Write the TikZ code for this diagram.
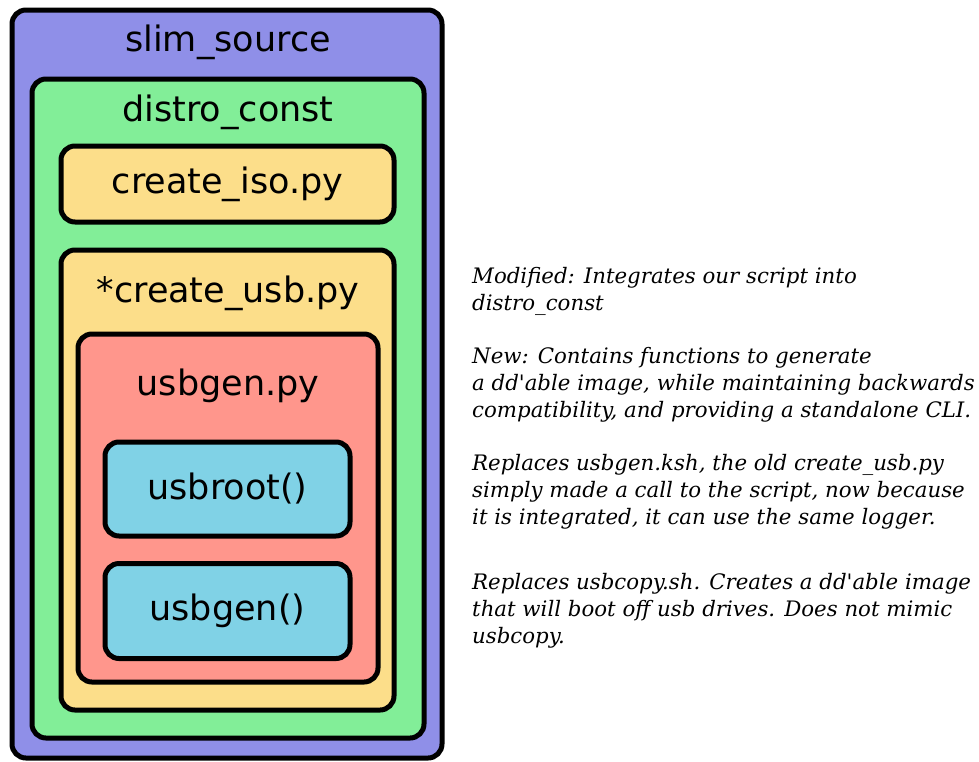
\documentclass[tikz,border=0pt]{standalone}
\usepackage{fontspec}
\setmainfont{DejaVu Sans}
\newfontfamily\notefont{DejaVu Serif}
\usepackage{tikz}
\usetikzlibrary{positioning}
\definecolor{slimcol}{RGB}{143,143,232}
\definecolor{distrocol}{RGB}{130,238,152}
\definecolor{createcol}{RGB}{252,222,138}
\definecolor{usbgencol}{RGB}{255,150,140}
\definecolor{funccol}{RGB}{128,210,230}
\tikzstyle{layer}=[draw=black, line width=5pt, rounded corners=14pt, inner sep=0pt]
\tikzstyle{boxtext}=[font=\fontsize{35}{40}\selectfont, inner sep=0pt]
\tikzstyle{note}=[font=\notefont\itshape\fontsize{21.3}{27}\selectfont, align=left, anchor=west, inner sep=0pt]

\begin{document}
\begin{tikzpicture}[x=1pt, y=-1pt]
          \useasboundingbox (0,0) rectangle (979,761);
          % nested boxes
          \node[layer, fill=slimcol, minimum width=430, minimum height=748] (slim) at (227,384){};
          \node[boxtext] (slimlabel) at (228,42){slim\_source};
          \node[layer, fill=distrocol, minimum width=392, minimum height=659] (distro) at (228,408.5){};
          \node[boxtext] (distrolabel) at (228,112){distro\_const};
          \node[layer, fill=createcol, minimum width=333, minimum height=76, boxtext] (iso) at (227.5,184){create\_iso.py};
          \node[layer, fill=createcol, minimum width=333, minimum height=460] (usb) at (227.5,480){};
          \node[boxtext] (usblabel) at (228,293){*create\_usb.py};
          \node[layer, fill=usbgencol, minimum width=300, minimum height=348] (gen) at (228,508){};
          \node[boxtext] (genlabel) at (228,386){usbgen.py};
          \node[layer, fill=funccol, minimum width=245, minimum height=94, boxtext] (root) at (227.5,489){usbroot()};
          \node[layer, fill=funccol, minimum width=245, minimum height=95, boxtext] (genfn) at (227.5,611){usbgen()};
          % notes
          \node[note] (modnote) at (472,291.5){Modified: Integrates our script into\\distro\_const};
          \node[note] (newnote) at (472,385){New: Contains functions to generate\\a dd\textquotesingle able image, while maintaining backwards\\compatibility, and providing a standalone CLI.};
          \node[note] (rootnote) at (472,491.5){Replaces usbgen.ksh, the old create\_usb.py\\simply made a call to the script, now because\\it is integrated, it can use the same logger.};
          \node[note] (gennote) at (472,611){Replaces usbcopy.sh. Creates a dd\textquotesingle able image\\that will boot off usb drives. Does not mimic\\usbcopy.};
        \end{tikzpicture}
\end{document}
